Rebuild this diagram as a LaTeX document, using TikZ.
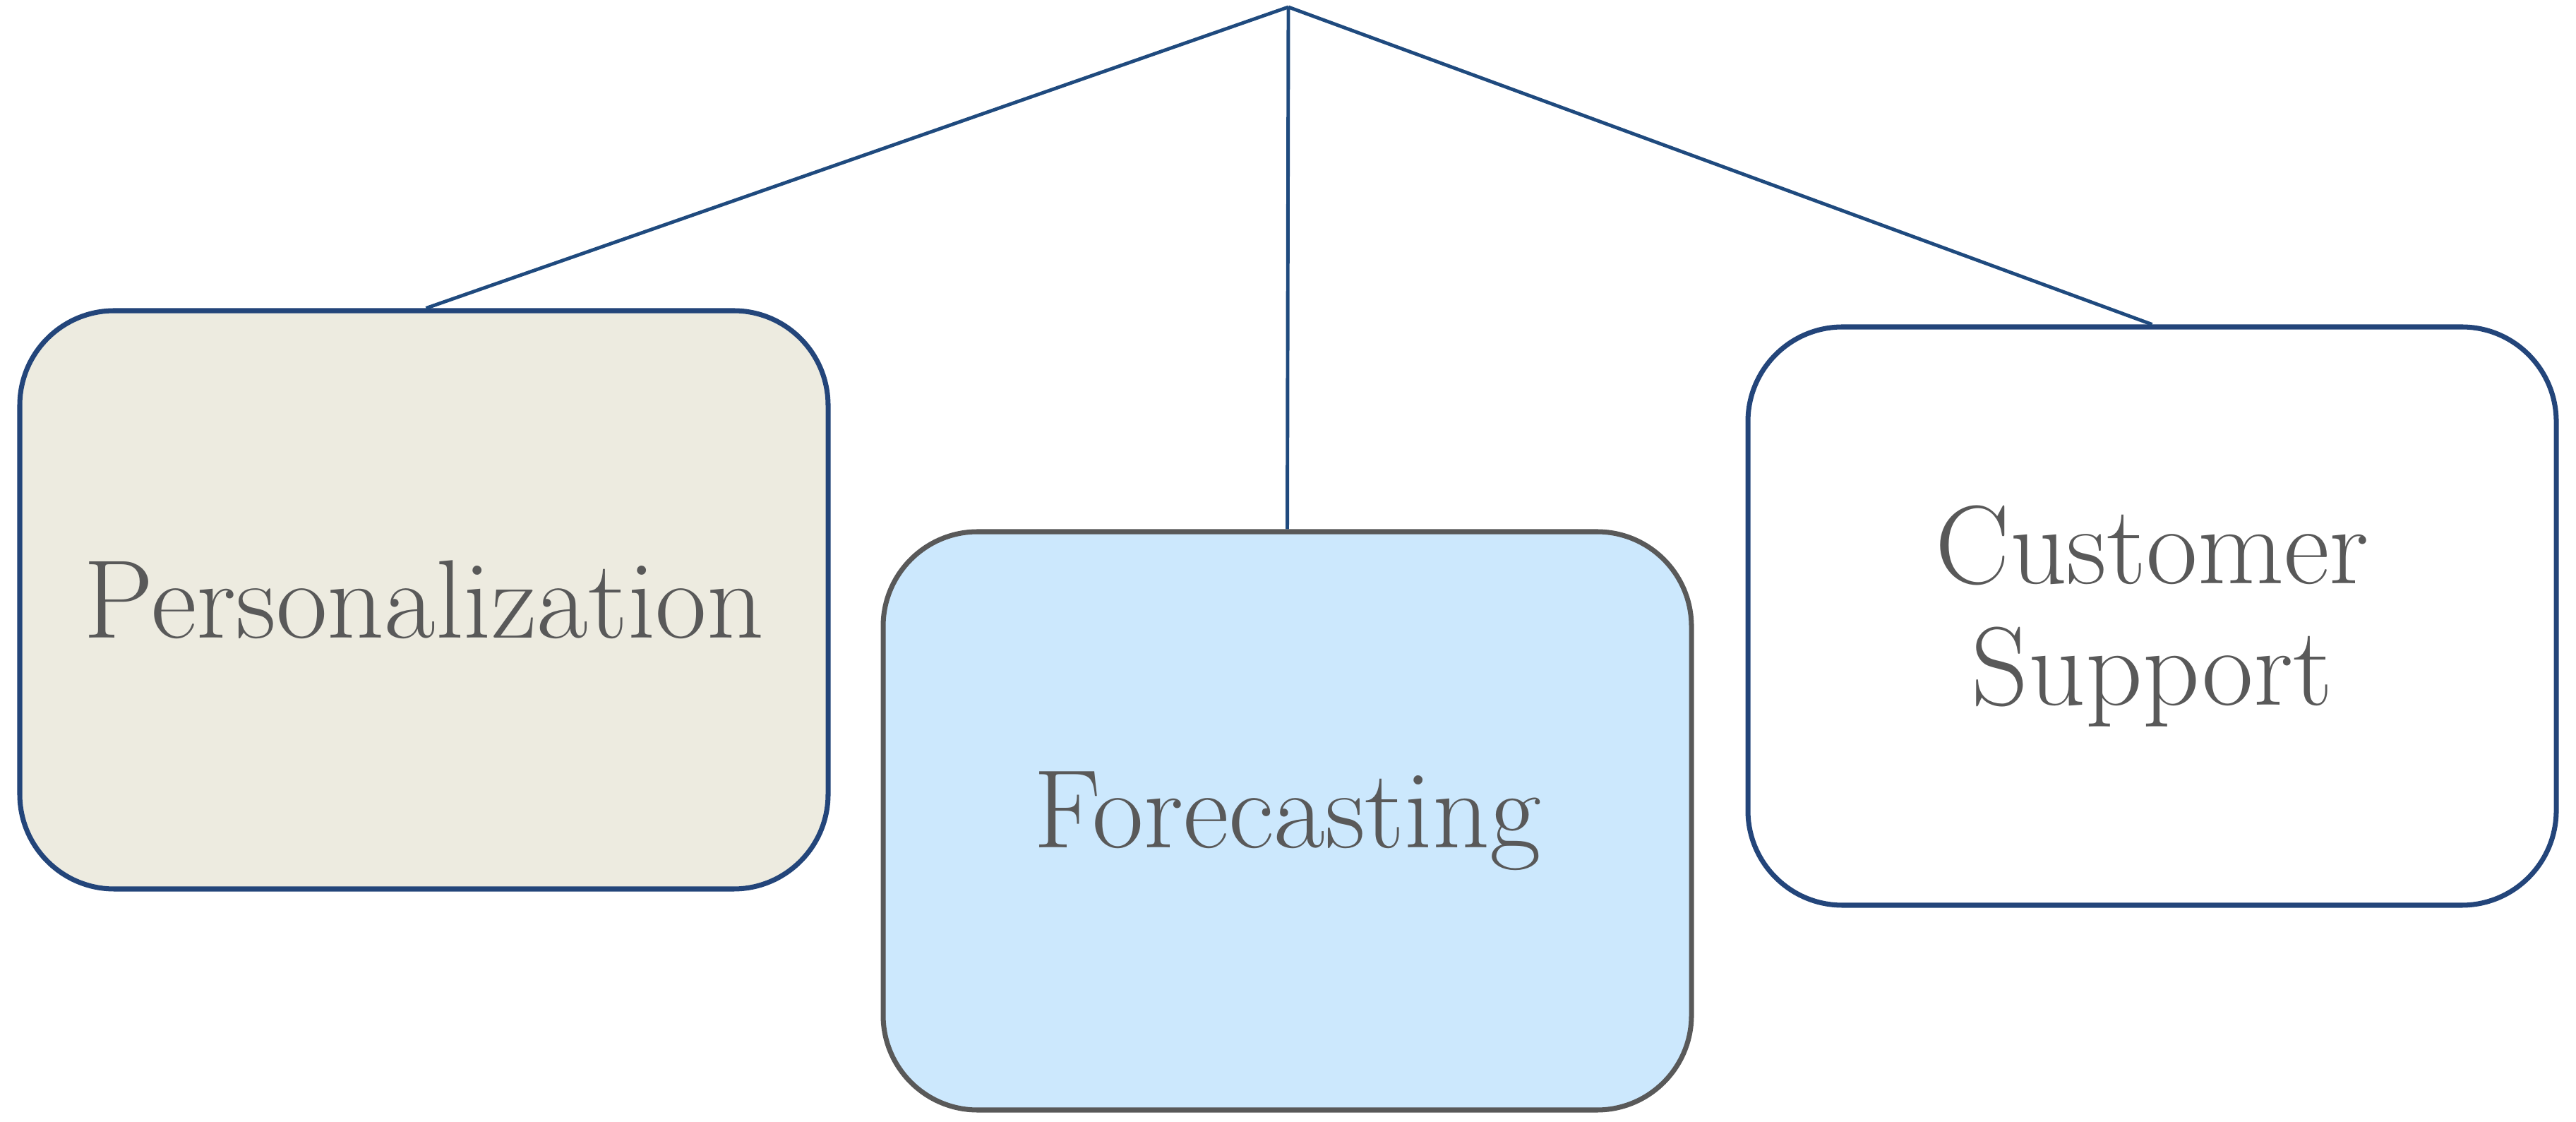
\documentclass[tikz,border=0pt]{standalone}
\usepackage{fontspec}
\usepackage{tikz}
\usetikzlibrary{positioning}

\definecolor{boxblue}{HTML}{23457A}
\definecolor{linkblue}{HTML}{1F4A7E}
\definecolor{boxgray}{HTML}{595959}
\definecolor{beige}{HTML}{EDEBE0}
\definecolor{skyfill}{HTML}{CCE8FD}

\begin{document}
\begin{tikzpicture}[
  every node/.style={rectangle, rounded corners=1.34cm, line width=2pt,
    minimum width=11.45cm, minimum height=8.19cm, align=center,
    text=boxgray, font=\fontsize{45}{49}\selectfont},
  leaf/.style={draw=boxblue},
  link/.style={draw=linkblue, line width=1.4pt}
]
\useasboundingbox (0,0) rectangle (36.49,-15.89);

\coordinate (root) at (18.25,-0.10);

\node[leaf, fill=beige] (pers) at (6.005,-8.495) {Personalization};
\node[draw=boxgray, fill=skyfill] (fore) at (18.235,-11.625) {Forecasting};
\node[leaf, fill=white] (cust) at (30.485,-8.725) {Customer\\Support};

\draw[link] (root) -- ([xshift=0.03cm]pers.north);
\draw[link] (root) -- (fore.north);
\draw[link] (root) -- (cust.north);

\end{tikzpicture}
\end{document}
